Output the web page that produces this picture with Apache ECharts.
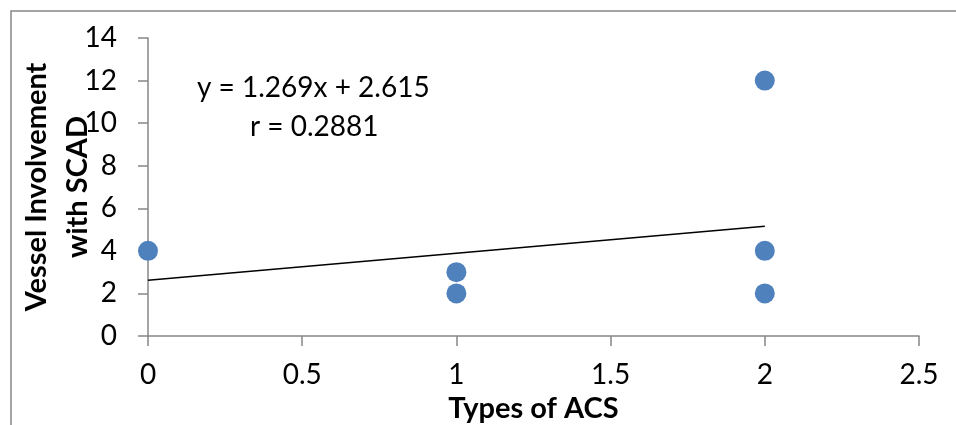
<!DOCTYPE html>
<html>
<head>
<meta charset="utf-8">
<script src="https://cdn.jsdelivr.net/npm/echarts@6/dist/echarts.min.js"></script>
<style>
  html, body { margin: 0; padding: 0; background: #fff; }
  #chart { width: 956px; height: 425px; }
</style>
</head>
<body>
<div id="chart"></div>
<script>
// data
var acsType = [0, 1, 1, 2, 2, 2];
var vessels = [4, 3, 2, 12, 4, 2];
// fitted line as printed on the chart
var slope = 1.269, intercept = 2.615;
var trendX = [0, 2];
var eqText = ['y = 1.269x + 2.615', 'r = 0.2881'];

var points = acsType.map(function (x, i) { return [x, vessels[i]]; });
var trend = trendX.map(function (x) { return [x, slope * x + intercept]; });

var axisGrey = '#868686';
var font = 'Lato, "Open Sans", sans-serif';

var chart = echarts.init(document.getElementById('chart'));
chart.setOption({
  animation: false,
  grid: { left: 148, right: 37, top: 38, bottom: 89, outerBoundsMode: 'none', containLabel: false },
  xAxis: {
    type: 'value',
    min: 0,
    max: 2.5,
    interval: 0.5,
    name: 'Types of ACS',
    nameLocation: 'middle',
    nameGap: 58,
    nameMoveOverlap: false,
    nameTextStyle: { fontFamily: font, fontSize: 29, fontWeight: 'bold', color: '#000' },
    axisLine: { lineStyle: { color: axisGrey, width: 1.5 } },
    axisTick: { show: true, length: 10, lineStyle: { color: axisGrey, width: 1.5 } },
    axisLabel: { margin: 25, fontFamily: font, fontSize: 28, color: '#000' },
    splitLine: { show: false }
  },
  yAxis: {
    type: 'value',
    min: 0,
    max: 14,
    interval: 2,
    name: 'Vessel Involvement\nwith SCAD',
    nameLocation: 'middle',
    nameGap: 50,
    nameMoveOverlap: false,
    nameTextStyle: { fontFamily: font, fontSize: 29, fontWeight: 'bold', color: '#000', lineHeight: 41 },
    axisLine: { show: true, lineStyle: { color: axisGrey, width: 1.5 } },
    axisTick: { show: true, length: 10, lineStyle: { color: axisGrey, width: 1.5 } },
    axisLabel: { margin: 31, fontFamily: font, fontSize: 28, color: '#000' },
    splitLine: { show: false }
  },
  graphic: [
    {
      type: 'rect',
      shape: { x: 11, y: 11, width: 1000, height: 500 },
      style: { fill: 'none', stroke: '#878787', lineWidth: 1.5 },
      silent: true
    },
    {
      type: 'text',
      left: 197,
      top: 74,
      style: { text: eqText[0], fontFamily: font, fontSize: 28, fill: '#000' }
    },
    {
      type: 'text',
      left: 250,
      top: 113,
      style: { text: eqText[1], fontFamily: font, fontSize: 28, fill: '#000' }
    }
  ],
  series: [
    {
      type: 'line',
      data: trend,
      symbol: 'none',
      lineStyle: { color: '#000', width: 1.5 },
      z: 1
    },
    {
      type: 'scatter',
      data: points,
      symbol: 'circle',
      symbolSize: 20,
      itemStyle: { color: '#4F81BD', opacity: 1 },
      z: 2
    }
  ]
});
</script>
</body>
</html>
